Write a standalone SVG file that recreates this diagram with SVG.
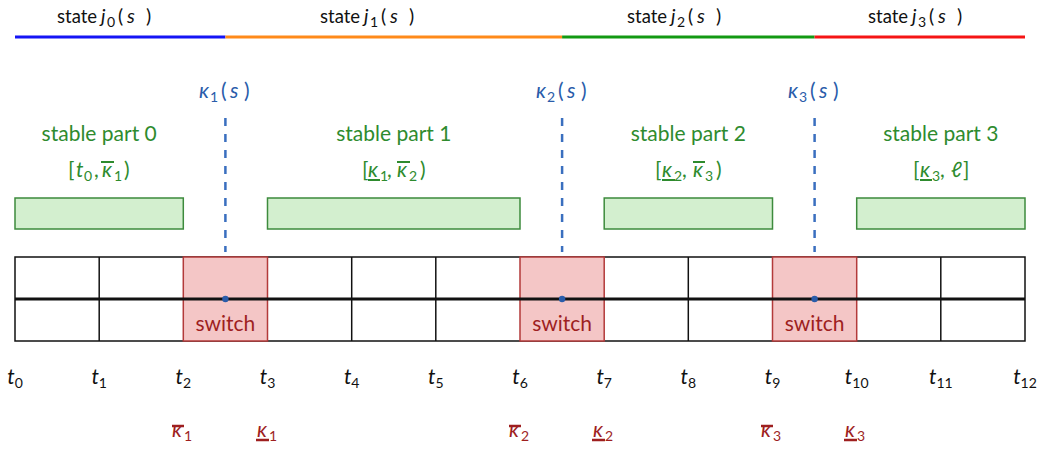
<svg xmlns="http://www.w3.org/2000/svg" width="1046" height="449" viewBox="0 0 1046 449">
<style>
text{font-family:Lato,"Open Sans","DejaVu Sans",sans-serif;font-size:21px}
.st{font-size:19.5px}
.sw18{font-size:18.5px}
.it{font-style:italic}
.sub{font-size:14px}
.blk{fill:#111}
.blue{fill:#2a5caa}
.grn{fill:#2e8b2e}
.red{fill:#9e1f1f}
.cell{fill:#fff;stroke:#111;stroke-width:1.5}
.sw{fill:#f4c6c6;stroke:#b33a3a;stroke-width:1.5}
.stable{fill:#d3efcf;stroke:#3d8b3d;stroke-width:1.5}
.dash{stroke:#3a6fbf;stroke-width:2.5;stroke-dasharray:8 8}
.gbar{stroke:#2e8b2e;stroke-width:2}
.rbar{stroke:#9e1f1f;stroke-width:2.5}
</style>
<g id="states">
<line x1="15" y1="37" x2="225.4" y2="37" stroke="#1515f5" stroke-width="3"/>
<line x1="225.4" y1="37" x2="562.1" y2="37" stroke="#ff8a1a" stroke-width="3"/>
<line x1="562.1" y1="37" x2="814.6" y2="37" stroke="#129912" stroke-width="3"/>
<line x1="814.6" y1="37" x2="1025" y2="37" stroke="#f51515" stroke-width="3"/>
<text class="blk st" y="23"><tspan class="sw18" x="57">state</tspan><tspan class="it" x="101">j</tspan><tspan class="sub" x="107" y="27">0</tspan><tspan x="118" y="23">(</tspan><tspan class="it" x="127">s</tspan><tspan x="146">)</tspan></text>
<text class="blk st" y="23"><tspan class="sw18" x="320">state</tspan><tspan class="it" x="364">j</tspan><tspan class="sub" x="370" y="27">1</tspan><tspan x="381" y="23">(</tspan><tspan class="it" x="390">s</tspan><tspan x="409">)</tspan></text>
<text class="blk st" y="23"><tspan class="sw18" x="627">state</tspan><tspan class="it" x="671">j</tspan><tspan class="sub" x="677" y="27">2</tspan><tspan x="688" y="23">(</tspan><tspan class="it" x="697">s</tspan><tspan x="716">)</tspan></text>
<text class="blk st" y="23"><tspan class="sw18" x="868">state</tspan><tspan class="it" x="912">j</tspan><tspan class="sub" x="918" y="27">3</tspan><tspan x="929" y="23">(</tspan><tspan class="it" x="938">s</tspan><tspan x="957">)</tspan></text>
</g>
<g id="stable0">
<rect class="stable" x="15" y="198" width="168.3" height="31"/>
<text class="grn" x="99.2" y="141" text-anchor="middle">stable part 0</text>
<text class="grn" y="177"><tspan x="68">[</tspan><tspan class="it" x="76">t</tspan><tspan class="sub" x="84" y="181">0</tspan><tspan x="94" y="177">,</tspan><tspan class="it" x="102">κ</tspan><tspan class="sub" x="114" y="181">1</tspan><tspan x="124" y="177">)</tspan></text>
<line class="gbar" x1="101" y1="162" x2="114" y2="162"/>
</g>
<g id="stable1">
<rect class="stable" x="267.5" y="198" width="252.5" height="31"/>
<text class="grn" x="393.8" y="141" text-anchor="middle">stable part 1</text>
<text class="grn" y="177"><tspan x="362">[</tspan><tspan class="it" x="368">κ</tspan><tspan class="sub" x="380" y="181">1</tspan><tspan x="387" y="177">,</tspan><tspan class="it" x="397">κ</tspan><tspan class="sub" x="409" y="181">2</tspan><tspan x="420" y="177">)</tspan></text>
<line class="gbar" x1="368" y1="180" x2="380" y2="180" stroke-width="3"/>
<line class="gbar" x1="397" y1="162" x2="410" y2="162"/>
</g>
<g id="stable2">
<rect class="stable" x="604.2" y="198" width="168.3" height="31"/>
<text class="grn" x="688.3" y="141" text-anchor="middle">stable part 2</text>
<text class="grn" y="177"><tspan x="655">[</tspan><tspan class="it" x="662">κ</tspan><tspan class="sub" x="674" y="181">2</tspan><tspan x="682" y="177">,</tspan><tspan class="it" x="693">κ</tspan><tspan class="sub" x="705" y="181">3</tspan><tspan x="716" y="177">)</tspan></text>
<line class="gbar" x1="662" y1="180" x2="675" y2="180" stroke-width="3"/>
<line class="gbar" x1="693" y1="162" x2="705" y2="162"/>
</g>
<g id="stable3">
<rect class="stable" x="856.7" y="198" width="168.3" height="31"/>
<text class="grn" x="940.8" y="141" text-anchor="middle">stable part 3</text>
<text class="grn" y="177"><tspan x="913">[</tspan><tspan class="it" x="920">κ</tspan><tspan class="sub" x="932" y="181">3</tspan><tspan x="940" y="177">,</tspan><tspan class="it" x="951">ℓ</tspan><tspan x="963">]</tspan></text>
<line class="gbar" x1="920" y1="180" x2="932" y2="180" stroke-width="3"/>
</g>
<g id="grid">
<rect class="cell" x="15" y="257" width="1010" height="84"/>
<g stroke="#111" stroke-width="1.5">
<line x1="99.2" y1="257" x2="99.2" y2="341"/>
<line x1="351.7" y1="257" x2="351.7" y2="341"/>
<line x1="435.8" y1="257" x2="435.8" y2="341"/>
<line x1="688.3" y1="257" x2="688.3" y2="341"/>
<line x1="940.8" y1="257" x2="940.8" y2="341"/>
</g>
</g>
<g id="switch1">
<rect class="sw" x="183.3" y="257" width="84.2" height="84"/>
<text class="red" x="225.4" y="331" text-anchor="middle">switch</text>
</g>
<g id="switch2">
<rect class="sw" x="520" y="257" width="84.2" height="84"/>
<text class="red" x="562.1" y="331" text-anchor="middle">switch</text>
</g>
<g id="switch3">
<rect class="sw" x="772.5" y="257" width="84.2" height="84"/>
<text class="red" x="814.6" y="331" text-anchor="middle">switch</text>
</g>
<g id="connectors">
<line x1="15" y1="299" x2="1025" y2="299" stroke="#111" stroke-width="3"/>
<line class="dash" x1="225.4" y1="118" x2="225.4" y2="252"/>
<line class="dash" x1="562.1" y1="118" x2="562.1" y2="252"/>
<line class="dash" x1="814.6" y1="118" x2="814.6" y2="252"/>
<circle cx="225.4" cy="299" r="3.2" fill="#2a5caa"/>
<circle cx="562.1" cy="299" r="3.2" fill="#2a5caa"/>
<circle cx="814.6" cy="299" r="3.2" fill="#2a5caa"/>
</g>
<g id="kappa-s">
<text class="blue" y="98"><tspan class="it" x="199">κ</tspan><tspan class="sub" x="210" y="102">1</tspan><tspan x="221" y="98">(</tspan><tspan class="it" x="230">s</tspan><tspan x="244">)</tspan></text>
<text class="blue" y="98"><tspan class="it" x="536">κ</tspan><tspan class="sub" x="547" y="102">2</tspan><tspan x="558" y="98">(</tspan><tspan class="it" x="567">s</tspan><tspan x="581">)</tspan></text>
<text class="blue" y="98"><tspan class="it" x="788">κ</tspan><tspan class="sub" x="799" y="102">3</tspan><tspan x="810" y="98">(</tspan><tspan class="it" x="819">s</tspan><tspan x="833">)</tspan></text>
</g>
<g id="t-labels" class="blk">
<text x="15" y="384" text-anchor="middle"><tspan class="it">t</tspan><tspan class="sub" dy="4">0</tspan></text>
<text x="99.2" y="384" text-anchor="middle"><tspan class="it">t</tspan><tspan class="sub" dy="4">1</tspan></text>
<text x="183.3" y="384" text-anchor="middle"><tspan class="it">t</tspan><tspan class="sub" dy="4">2</tspan></text>
<text x="267.5" y="384" text-anchor="middle"><tspan class="it">t</tspan><tspan class="sub" dy="4">3</tspan></text>
<text x="351.7" y="384" text-anchor="middle"><tspan class="it">t</tspan><tspan class="sub" dy="4">4</tspan></text>
<text x="435.8" y="384" text-anchor="middle"><tspan class="it">t</tspan><tspan class="sub" dy="4">5</tspan></text>
<text x="520" y="384" text-anchor="middle"><tspan class="it">t</tspan><tspan class="sub" dy="4">6</tspan></text>
<text x="604.2" y="384" text-anchor="middle"><tspan class="it">t</tspan><tspan class="sub" dy="4">7</tspan></text>
<text x="688.3" y="384" text-anchor="middle"><tspan class="it">t</tspan><tspan class="sub" dy="4">8</tspan></text>
<text x="772.5" y="384" text-anchor="middle"><tspan class="it">t</tspan><tspan class="sub" dy="4">9</tspan></text>
<text x="856.7" y="384" text-anchor="middle"><tspan class="it">t</tspan><tspan class="sub" dy="4">10</tspan></text>
<text x="940.8" y="384" text-anchor="middle"><tspan class="it">t</tspan><tspan class="sub" dy="4">11</tspan></text>
<text x="1025" y="384" text-anchor="middle"><tspan class="it">t</tspan><tspan class="sub" dy="4">12</tspan></text>
</g>
<g id="kappa-bounds">
<text class="red" y="437"><tspan class="it" x="172">κ</tspan><tspan class="sub" x="184" y="441">1</tspan></text>
<line class="rbar" x1="172" y1="426" x2="184" y2="426"/>
<text class="red" y="437"><tspan class="it" x="257">κ</tspan><tspan class="sub" x="269" y="441">1</tspan></text>
<line class="rbar" x1="256" y1="440" x2="269" y2="440"/>
<text class="red" y="437"><tspan class="it" x="509">κ</tspan><tspan class="sub" x="521" y="441">2</tspan></text>
<line class="rbar" x1="509" y1="426" x2="521" y2="426"/>
<text class="red" y="437"><tspan class="it" x="593">κ</tspan><tspan class="sub" x="605" y="441">2</tspan></text>
<line class="rbar" x1="592" y1="440" x2="605" y2="440"/>
<text class="red" y="437"><tspan class="it" x="761">κ</tspan><tspan class="sub" x="773" y="441">3</tspan></text>
<line class="rbar" x1="761" y1="426" x2="773" y2="426"/>
<text class="red" y="437"><tspan class="it" x="845">κ</tspan><tspan class="sub" x="857" y="441">3</tspan></text>
<line class="rbar" x1="844" y1="440" x2="857" y2="440"/>
</g>
</svg>
